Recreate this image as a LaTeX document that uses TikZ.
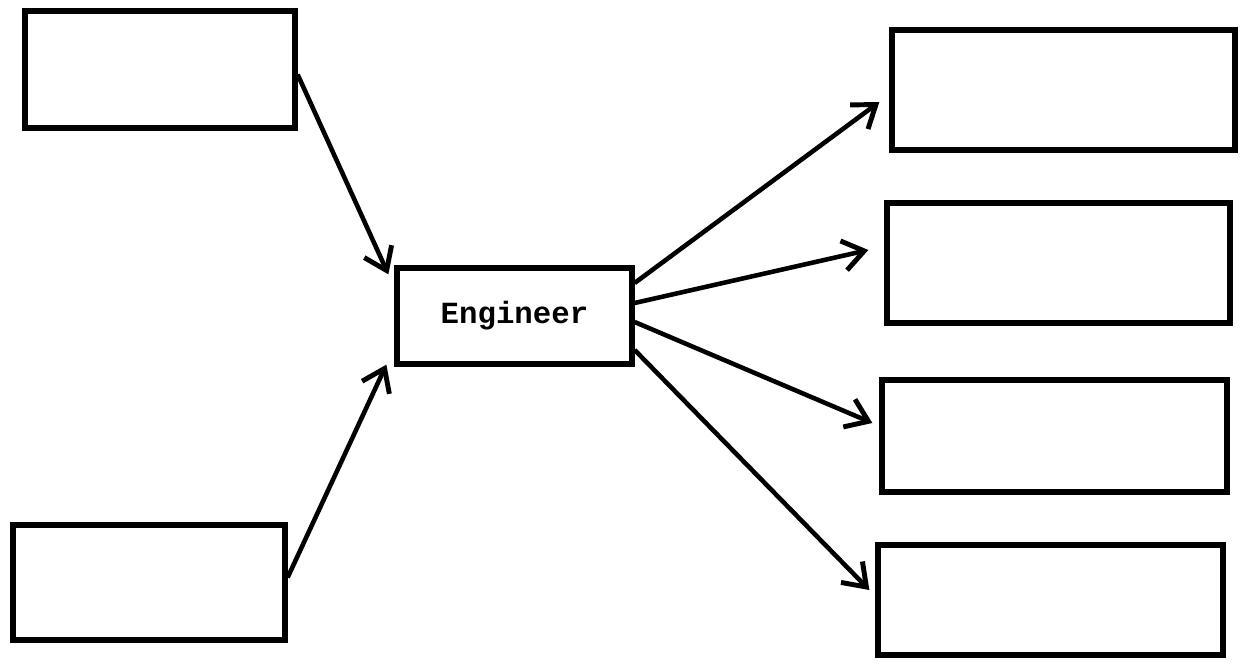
\documentclass[tikz,border=0pt]{standalone}
\usepackage{fontspec}
\setmonofont{Liberation Mono}
\usetikzlibrary{arrows.meta}

\begin{document}
\begin{tikzpicture}[
    box/.style={rectangle, draw=black, line width=3pt, inner sep=0},
    flow/.style={-{Straight Barb[length=0.42cm, width=0.6cm, line width=2.8pt]}, line width=2.6pt}
]

\useasboundingbox (0,0) rectangle (24.8,13.28);

% ============================================
% CAJAS DE ENTRADA (izquierda)
% ============================================
\node[box, minimum width=5.4cm,  minimum height=2.34cm] at (3.2,11.89) (tl) {};
\node[box, minimum width=5.44cm, minimum height=2.3cm]  at (2.98,1.63) (bl) {};

% ============================================
% CAJA CENTRAL
% ============================================
\node[box, minimum width=4.7cm, minimum height=1.92cm,
      font=\ttfamily\bfseries\fontsize{17.5}{21}\selectfont] at (10.29,6.96) (eng) {Engineer};

% ============================================
% CAJAS DE SALIDA (derecha)
% ============================================
\node[box, minimum width=6.86cm, minimum height=2.4cm]  at (21.27,11.48) (r1) {};
\node[box, minimum width=6.86cm, minimum height=2.4cm]  at (21.17,8.02)  (r2) {};
\node[box, minimum width=6.9cm,  minimum height=2.24cm] at (21.09,4.56)  (r3) {};
\node[box, minimum width=6.9cm,  minimum height=2.2cm]  at (21.01,1.28)  (r4) {};

% ============================================
% FLECHAS
% ============================================
\draw[flow] ([yshift=-0.1cm]tl.east) -- ([xshift=-0.12cm,yshift=-0.18cm]eng.north west);
\draw[flow] ([yshift=0.1cm]bl.east)  -- ([xshift=-0.16cm,yshift=0.04cm]eng.south west);

\draw[flow] ([yshift=0.66cm]eng.east)  -- ([xshift=-0.2cm,yshift=-0.24cm]r1.west);
\draw[flow] ([yshift=0.26cm]eng.east)  -- ([xshift=-0.32cm,yshift=0.26cm]r2.west);
\draw[flow] ([yshift=-0.12cm]eng.east) -- ([xshift=-0.14cm,yshift=0.26cm]r3.west);
\draw[flow] ([yshift=-0.68cm]eng.east) -- ([xshift=-0.12cm,yshift=0.2cm]r4.west);

\end{tikzpicture}
\end{document}
